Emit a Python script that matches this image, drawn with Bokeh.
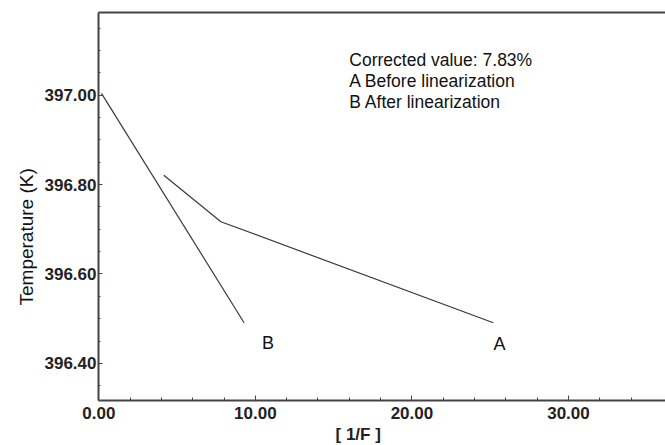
from bokeh.plotting import figure
from bokeh.models import (Range1d, FixedTicker, NumeralTickFormatter, LinearAxis,
                          Label, Title)
from bokeh.embed import file_html
from bokeh.resources import INLINE

# ---- data ----
a_x = [4.15, 7.8, 25.2]
a_y = [396.821, 396.717, 396.491]
b_x = [0.17, 9.28]
b_y = [397.004, 396.491]

x_major = [0, 10, 20, 30]
x_minor = [2, 4, 6, 8, 12, 14, 16, 18, 22, 24, 26, 28, 32, 34]
y_major = [396.40, 396.60, 396.80, 397.00]
y_minor = [396.35, 396.45, 396.50, 396.55, 396.65, 396.70, 396.75, 396.85,
           396.90, 396.95, 397.05, 397.10, 397.15]

curve_names = ["A", "B"]
curve_label_x = [25.6, 10.8]
curve_label_y = [396.444, 396.445]

note_lines = ["Corrected value: 7.83%", "A Before linearization", "B After linearization"]
note_x = 16.0
note_y = [397.078, 397.031, 396.984]

x_title = "[ 1/F ]"
y_title = "Temperature (K)"

TICK_FONT = "'Liberation Sans Narrow', 'Liberation Sans', sans-serif"
TEXT_FONT = "'Liberation Sans', Arial, sans-serif"
AXIS_COLOR = "#444444"
LINE_COLOR = "#3a3a3a"

p = figure(width=665, height=445, output_backend="svg", toolbar_location=None,
           x_range=Range1d(-0.02, 36.2), y_range=Range1d(396.317, 397.185),
           min_border_left=98, min_border_right=0, min_border_top=12,
           min_border_bottom=45)
p.outline_line_color = None
p.grid.visible = False
p.background_fill_color = "white"
p.border_fill_color = "white"

# axes
xa = p.xaxis[0]
xa.ticker = FixedTicker(ticks=x_major, minor_ticks=x_minor)
xa.formatter = NumeralTickFormatter(format="0.00")
ya = p.yaxis[0]
ya.ticker = FixedTicker(ticks=y_major, minor_ticks=y_minor)
ya.formatter = NumeralTickFormatter(format="0.00")

for ax in (xa, ya):
    ax.axis_line_color = AXIS_COLOR
    ax.axis_line_width = 2
    ax.major_tick_line_color = AXIS_COLOR
    ax.minor_tick_line_color = AXIS_COLOR
    ax.major_tick_line_width = 1
    ax.minor_tick_line_width = 1
    ax.major_tick_out = 0
    ax.minor_tick_out = 0
    ax.major_label_text_font = TICK_FONT
    ax.major_label_text_font_style = "bold"
    ax.major_label_text_font_size = "17px"
    ax.major_label_text_color = "#222222"
xa.major_tick_in = 5
xa.minor_tick_in = 3
xa.major_label_standoff = 6
ya.major_tick_in = 4
ya.minor_tick_in = 2
ya.major_label_standoff = 2

top = LinearAxis(ticker=FixedTicker(ticks=[]), axis_line_color=AXIS_COLOR,
                 axis_line_width=2, major_tick_line_color=None,
                 minor_tick_line_color=None, major_label_text_font_size="0px")
p.add_layout(top, "above")

# axis titles
p.add_layout(Title(text=x_title, align="left", offset=237, standoff=3,
                   text_font=TICK_FONT, text_font_style="bold", text_font_size="17px",
                   text_color="#222222"), "below")
p.add_layout(Title(text=y_title, align="left", offset=95, standoff=10,
                   text_font=TEXT_FONT, text_font_style="normal", text_font_size="19px",
                   text_color="#111111"), "left")

# curves
p.line(a_x, a_y, line_color=LINE_COLOR, line_width=1.2)
p.line(b_x, b_y, line_color=LINE_COLOR, line_width=1.2)

p.text(x=curve_label_x, y=curve_label_y, text=curve_names,
       text_font_size="18px", text_color="#111111",
       text_align="center", text_baseline="alphabetic",
       text_font={"value": TEXT_FONT})

for txt, yy in zip(note_lines, note_y):
    p.add_layout(Label(x=note_x, y=yy, text=txt, text_font=TEXT_FONT,
                       text_font_size="17.5px", text_color="#111111",
                       text_baseline="alphabetic"))

open("out.html", "w").write(file_html(p, INLINE))
